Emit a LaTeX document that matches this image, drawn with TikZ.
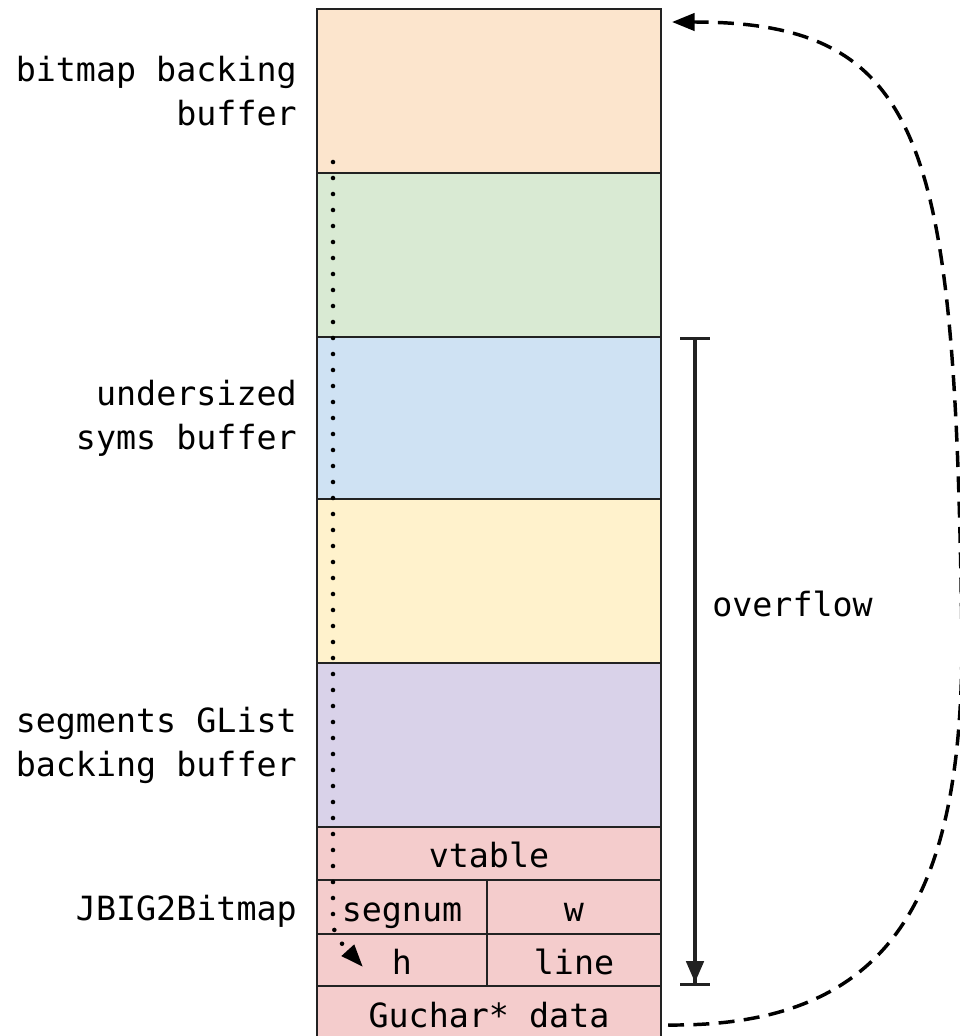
\documentclass[tikz,border=0pt]{standalone}
\usepackage{fontspec}
\newfontfamily\mono{DejaVu Sans Mono}
\usetikzlibrary{arrows.meta,positioning,calc}
\definecolor{mOrange}{HTML}{FCE5CD}
\definecolor{mGreen}{HTML}{D9EAD3}
\definecolor{mBlue}{HTML}{CFE2F3}
\definecolor{mYellow}{HTML}{FFF2CC}
\definecolor{mPurple}{HTML}{D9D2E9}
\definecolor{mRed}{HTML}{F4CCCC}
\definecolor{mLine}{HTML}{222222}

\tikzset{
  cell/.style={draw=mLine,line width=0.8pt,inner sep=0pt,outer sep=0pt,
    anchor=north west,minimum width=258pt,text height=28pt,text depth=6.5pt,
    font=\mono\fontsize{25}{33}\selectfont},
  side/.style={anchor=east,align=right,inner sep=0pt,font=\mono\fontsize{25}{33}\selectfont},
}

\begin{document}
\begin{tikzpicture}[x=0.75pt,y=-0.75pt]
  \useasboundingbox (0,0) rectangle (960,1036);
  % ---- memory column ----
  \node[cell,fill=mOrange,minimum height=123pt] (bitmap) at (317,9) {};
  \node[cell,fill=mGreen,minimum height=123pt] (green) at (bitmap.south west) {};
  \node[cell,fill=mBlue,minimum height=121.5pt] (syms) at (green.south west) {};
  \node[cell,fill=mYellow,minimum height=123pt] (yellow) at (syms.south west) {};
  \node[cell,fill=mPurple,minimum height=123pt] (glist) at (yellow.south west) {};
  % ---- JBIG2Bitmap object ----
  \node[cell,fill=mRed,minimum height=39.75pt] (vtable) at (glist.south west) {vtable};
  \node[cell,fill=mRed,minimum width=127.5pt,minimum height=40.5pt] (segnum) at (vtable.south west) {segnum};
  \node[cell,fill=mRed,minimum width=130.5pt,minimum height=40.5pt] (w) at (segnum.north east) {w};
  \node[cell,fill=mRed,minimum width=127.5pt,minimum height=39pt] (h) at (segnum.south west) {h};
  \node[cell,fill=mRed,minimum width=130.5pt,minimum height=39pt] (line) at (h.north east) {line};
  \node[cell,fill=mRed,minimum height=40.5pt] (data) at (h.south west) {Guchar* data};
  % ---- labels ----
  \node[side,left=15pt of bitmap.west] (lblbitmap) {bitmap backing\\buffer};
  \node[side,left=15pt of syms.west] (lblsyms) {undersized\\syms buffer};
  \node[side,left=15pt of glist.west] (lblglist) {segments GList\\backing buffer};
  \node[side,left=15pt of segnum.west,yshift=-3pt] (lbljbig) {JBIG2Bitmap};
  % ---- overflow ----
  \coordinate (ovtop) at ([shift={(34,0)}]syms.north east);
  \coordinate (ovbot) at ([shift={(34,0)}]data.north east);
  \draw[mLine,line width=2.6pt,{Bar[width=22pt]}-{Triangle[length=16pt,width=13pt]Bar[width=22pt]}]
    (ovtop) -- (ovbot);
  \node[anchor=west,inner sep=0pt,font=\mono\fontsize{25}{33}\selectfont] (ovlabel) at (712,604) {overflow};
  % ---- pointers ----
  \coordinate (dotstart) at (333,162);
  \coordinate (dotend) at ([shift={(46,7)}]h.west);
  \draw[black,line width=3.4pt,line cap=round,dash pattern=on 0pt off 12pt,
    -{Triangle[length=17pt,width=12pt,line cap=butt]}]
    (dotstart) -- (333,915) .. controls (334,935) .. (dotend);
  \coordinate (dashstart) at ([shift={(7,12)}]data.east);
  \coordinate (dashend) at ([shift={(11,13)}]bitmap.north east);
  \draw[black,line width=2.6pt,dash pattern=on 12pt off 7pt,-{Triangle[length=17pt,width=13pt]}]
    (dashstart) .. controls (890,1027) and (962,900) .. (962,640)
    .. controls (955,150) and (930,22) .. (dashend);
\end{tikzpicture}
\end{document}
